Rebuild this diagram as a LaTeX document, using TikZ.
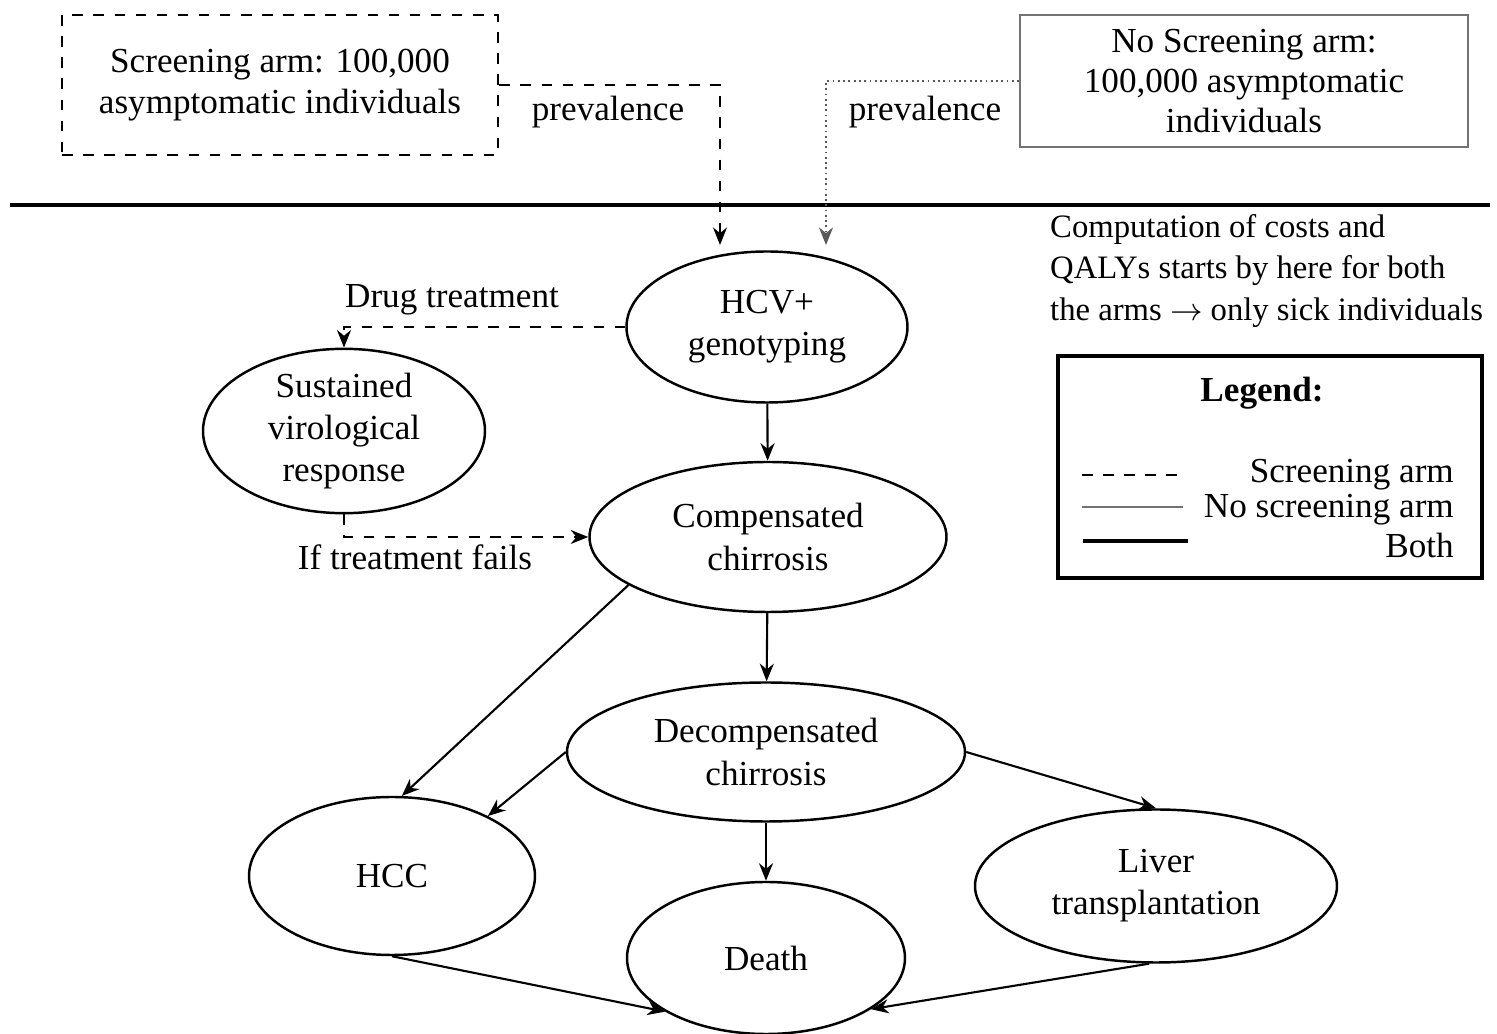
\documentclass[tikz,border=0pt]{standalone}
\usepackage{fontspec}
\setmainfont{Liberation Serif}
\usetikzlibrary{shapes.geometric, arrows.meta}

\begin{document}
\begin{tikzpicture}[
    every node/.append style={font=\fontsize{10}{12}\selectfont},
    state/.style={ellipse, draw, line width=0.7pt, align=center, inner sep=0pt},
    armbox/.style={rectangle, align=center, inner sep=0pt, font=\fontsize{10}{11.5}\selectfont},
    lbl/.style={inner sep=1pt},
    both/.style={-{Stealth[length=5pt,width=4pt]}, line width=0.6pt},
    scrarrow/.style={-{Stealth[length=5pt,width=4pt]}, dashed, line width=0.6pt},
    noscrarrow/.style={-{Stealth[length=5pt,width=4pt]}, densely dotted, line width=0.5pt, black!65}
]
    \useasboundingbox (0,-10.34) rectangle (14.97,0);

    % the two arms
    \node[armbox, draw, dashed, line width=0.8pt, minimum width=4.36cm, minimum height=1.40cm] (screen) at (2.80,-0.85) {Screening arm: 100,000\\asymptomatic individuals};
    \node[armbox, draw=black!55, line width=0.6pt, minimum width=4.48cm, minimum height=1.32cm] (noscreen) at (12.44,-0.81) {No Screening arm:\\100,000 asymptomatic\\individuals};

    % separator and note
    \coordinate (sepL) at (0.10,-2.05);
    \coordinate (sepR) at (14.90,-2.05);
    \draw[line width=1.2pt] (sepL) -- (sepR);
    \node[lbl, align=left, anchor=north west, font=\fontsize{9.3}{11.8}\selectfont] (cost) at (10.46,-2.10) {Computation of costs and\\QALYs starts by here for both\\the arms $\rightarrow$ only sick individuals};

    % states
    \node[state, minimum width=2.81cm, minimum height=1.51cm] (hcv) at (7.67,-3.27) {HCV+\\genotyping};
    \node[state, minimum width=2.82cm, minimum height=1.52cm] (svr) at (3.44,-4.31) {Sustained\\virological\\response};
    \node[state, minimum width=3.57cm, minimum height=1.50cm] (comp) at (7.68,-5.37) {Compensated\\chirrosis};
    \node[state, minimum width=3.98cm, minimum height=1.39cm] (decomp) at (7.66,-7.52) {Decompensated\\chirrosis};
    \node[state, minimum width=2.86cm, minimum height=1.58cm] (hcc) at (3.92,-8.76) {HCC};
    \node[state, minimum width=2.78cm, minimum height=1.52cm] (death) at (7.66,-9.58) {Death};
    \node[state, minimum width=3.62cm, minimum height=1.53cm] (liver) at (11.56,-8.86) {Liver\\transplantation};

    % entry into the model
    \coordinate (hcvinL) at (7.20,-2.45);
    \coordinate (hcvinR) at (8.26,-2.45);
    \draw[scrarrow] (screen.east) -| (hcvinL);
    \draw[noscrarrow] (noscreen.west) -| (hcvinR);
    \node[lbl] (prevL) at (6.08,-1.12) {prevalence};
    \node[lbl] (prevR) at (9.25,-1.12) {prevalence};

    % treatment (screening arm only)
    \draw[scrarrow] (hcv.west) -| (svr.north);
    \draw[scrarrow] (svr.south) |- (comp.west);
    \node[lbl] (drug) at (4.52,-3.00) {Drug treatment};
    \node[lbl] (fails) at (4.15,-5.57) {If treatment fails};

    % disease progression
    \draw[both] (hcv) -- (comp);
    \draw[both] (comp) -- (decomp);
    \draw[both] (comp.199) -- (hcc.83);
    \draw[both] (decomp.west) -- (hcc.32);
    \draw[both] (decomp.east) -- (liver.north);
    \draw[both] (decomp) -- (death);
    \draw[both] (hcc.south) -- (death.208);
    \draw[both] (liver.265) -- (death.334);

    % legend
    \node[draw, line width=1pt, minimum width=4.24cm, minimum height=2.22cm] (legend) at (12.70,-4.67) {};
    \node[lbl, font=\bfseries\fontsize{10}{12}\selectfont] (legtitle) at (12.62,-3.93) {Legend:};
    \draw[dashed, line width=0.7pt] (10.82,-4.75) -- ++(1.01,0);
    \draw[black!55, line width=0.6pt] (10.82,-5.07) -- ++(1.01,0);
    \draw[line width=1pt] (10.83,-5.41) -- ++(1.05,0);
    \node[lbl, anchor=east] (legscr) at (14.58,-4.75) {Screening arm};
    \node[lbl, anchor=east] (legnoscr) at (14.58,-5.10) {No screening arm};
    \node[lbl, anchor=east] (legboth) at (14.58,-5.45) {Both};
\end{tikzpicture}
\end{document}
